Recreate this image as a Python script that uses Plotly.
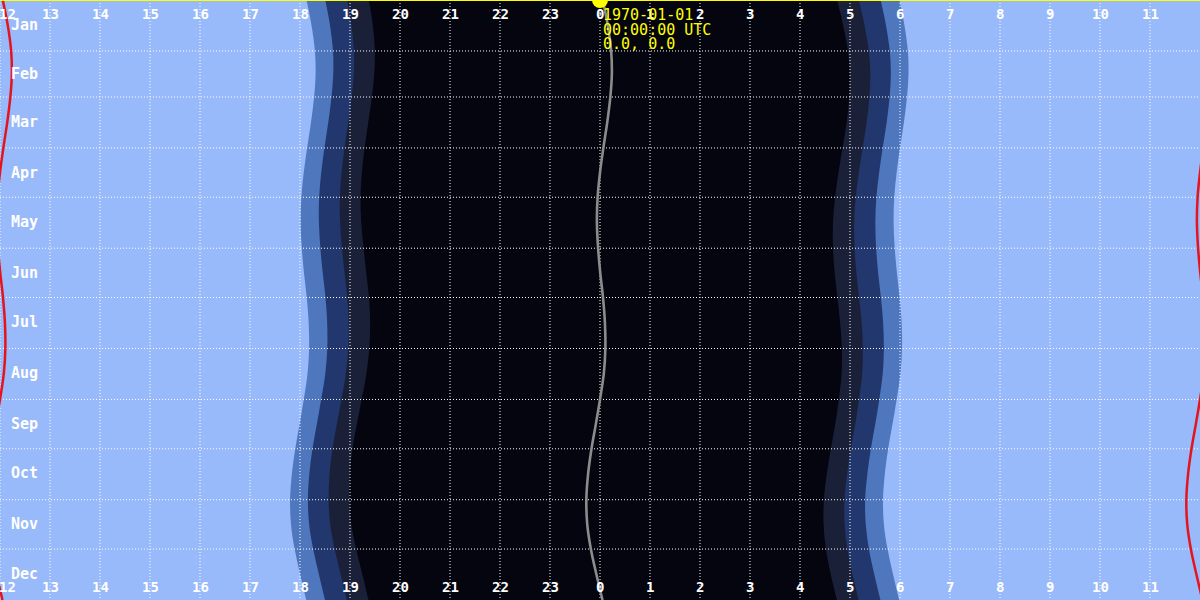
import plotly.graph_objects as go

# day of year for each sampled row (0 = Jan 1, 365 = Dec 31 end)
days = [0, 15, 31, 45, 59, 74, 90, 105, 120, 135, 151, 166, 181,
        196, 212, 227, 243, 258, 273, 288, 304, 319, 334, 349, 365]

# solar noon, UTC hours at lat 0.0 / lon 0.0
noon = [12.055, 12.153, 12.223, 12.237, 12.207, 12.147, 12.067, 12.000, 11.952,
        11.938, 11.962, 12.005, 12.060, 12.098, 12.107, 12.077, 12.000, 11.917,
        11.830, 11.763, 11.727, 11.745, 11.817, 11.925, 12.050]

# evening boundaries (hours)
sunset = [18.130, 18.228, 18.298, 18.312, 18.282, 18.222, 18.142, 18.075, 18.027,
          18.013, 18.037, 18.080, 18.135, 18.173, 18.182, 18.152, 18.075, 17.992,
          17.905, 17.838, 17.802, 17.820, 17.892, 18.000, 18.125]
civil_dusk = [18.505, 18.598, 18.660, 18.665, 18.630, 18.567, 18.488, 18.425, 18.383,
              18.378, 18.408, 18.455, 18.510, 18.543, 18.545, 18.507, 18.423, 18.337,
              18.250, 18.187, 18.158, 18.183, 18.263, 18.375, 18.500]
nautical_dusk = [18.940, 19.027, 19.078, 19.075, 19.033, 18.967, 18.890, 18.832, 18.797,
                 18.802, 18.840, 18.890, 18.945, 18.973, 18.965, 18.918, 18.828, 18.737,
                 18.650, 18.592, 18.572, 18.605, 18.693, 18.810, 18.935]
astro_dusk = [19.375, 19.455, 19.497, 19.485, 19.437, 19.367, 19.292, 19.238, 19.210,
              19.225, 19.272, 19.325, 19.380, 19.403, 19.385, 19.330, 19.233, 19.137,
              19.050, 18.997, 18.985, 19.027, 19.123, 19.245, 19.370]

# morning boundaries (hours)
astro_dawn = [4.743, 4.860, 4.958, 4.997, 4.985, 4.935, 4.850, 4.770, 4.702,
              4.660, 4.660, 4.693, 4.748, 4.802, 4.837, 4.832, 4.775, 4.705,
              4.618, 4.538, 4.477, 4.472, 4.518, 4.613, 4.738]
nautical_dawn = [5.178, 5.288, 5.377, 5.407, 5.388, 5.335, 5.252, 5.177, 5.115,
                 5.083, 5.092, 5.128, 5.183, 5.232, 5.257, 5.243, 5.180, 5.105,
                 5.018, 4.943, 4.890, 4.893, 4.948, 5.048, 5.173]
civil_dawn = [5.613, 5.717, 5.795, 5.817, 5.792, 5.735, 5.653, 5.583, 5.528,
              5.507, 5.523, 5.563, 5.618, 5.662, 5.677, 5.655, 5.585, 5.505,
              5.418, 5.348, 5.303, 5.315, 5.378, 5.483, 5.608]
sunrise = [5.988, 6.087, 6.157, 6.170, 6.140, 6.080, 6.000, 5.933, 5.885,
           5.872, 5.895, 5.938, 5.993, 6.032, 6.040, 6.010, 5.933, 5.850,
           5.763, 5.697, 5.660, 5.678, 5.750, 5.858, 5.983]

hours = list(range(12, 36))
hour_labels = [str(h % 24) for h in hours]
month_labels = ['Jan', 'Feb', 'Mar', 'Apr', 'May', 'Jun',
                'Jul', 'Aug', 'Sep', 'Oct', 'Nov', 'Dec']
month_mid = [15, 45, 74, 105, 135, 166, 196, 227, 258, 288, 319, 349]
month_start = [31, 59, 90, 120, 151, 181, 212, 243, 273, 304, 334]

now_hour = 0.0
now_day = 0
now_text = ['1970-01-01', '00:00:00 UTC', '0.0, 0.0']

DAY = '#98b9fa'
CIVIL = '#4e77be'
NAUT = '#22376d'
ASTRO = '#1b2039'
NIGHT = '#04050f'
MONO = 'DejaVu Sans Mono'


def shift(vals, by):
    return [v + by for v in vals]


fig = go.Figure()

bands = [
    (sunset, sunrise, CIVIL),
    (civil_dusk, civil_dawn, NAUT),
    (nautical_dusk, nautical_dawn, ASTRO),
    (astro_dusk, astro_dawn, NIGHT),
]
for evening, morning, col in bands:
    fig.add_trace(go.Scatter(x=evening, y=days, mode='lines',
                             line=dict(width=0, shape='spline', color=col),
                             hoverinfo='skip'))
    fig.add_trace(go.Scatter(x=shift(morning, 24), y=days, mode='lines',
                             line=dict(width=0, shape='spline', color=col),
                             fill='tonextx', fillcolor=col, hoverinfo='skip'))

# dotted white grid drawn over the bands
gx, gy = [], []
for h in hours:
    gx += [h, h, None]
    gy += [0, 365, None]
for d in month_start:
    gx += [12, 36, None]
    gy += [d, d, None]
fig.add_trace(go.Scatter(x=gx, y=gy, mode='lines',
                         line=dict(color='white', width=1, dash='1px,2px'),
                         hoverinfo='skip'))

# solar noon (wraps round the 12 o'clock edge) and solar midnight
fig.add_trace(go.Scatter(x=noon, y=days, mode='lines',
                         line=dict(color='#e4141e', width=2.5, shape='spline')))
fig.add_trace(go.Scatter(x=shift(noon, 24), y=days, mode='lines',
                         line=dict(color='#e4141e', width=2.5, shape='spline')))
fig.add_trace(go.Scatter(x=shift(noon, 12), y=days, mode='lines',
                         line=dict(color='#8c8c8c', width=2.6, shape='spline')))

# current time marker
fig.add_shape(type='line', x0=12, x1=36, y0=now_day, y1=now_day,
              line=dict(color='#ffff00', width=2), layer='above')
fig.add_trace(go.Scatter(x=[now_hour + 24], y=[now_day], mode='markers',
                         marker=dict(color='#ffff00', size=16)))

for h, lab in zip(hours, hour_labels):
    xs = 7 if h == 12 else 0
    for yy, anc, ys in [(1, 'top', -4), (0, 'bottom', 3)]:
        fig.add_annotation(x=h, y=yy, yref='paper', text=lab, showarrow=False,
                           xanchor='center', yanchor=anc, xshift=xs, yshift=ys,
                           font=dict(family=MONO, size=14, color='white',
                                     weight='bold'))

for d, lab in zip(month_mid, month_labels):
    fig.add_annotation(x=12.17, y=d, text=lab, showarrow=False, xanchor='left',
                       yanchor='middle',
                       font=dict(family=MONO, size=15, color='white', weight='bold'))

for i, t in enumerate(now_text):
    fig.add_annotation(x=now_hour + 24, y=1, yref='paper', text=t, showarrow=False,
                       xanchor='left', yanchor='top', xshift=1, yshift=-4 - 14.5 * i,
                       font=dict(family=MONO, size=15, color='#ffff00'))

fig.update_layout(
    width=1200, height=600,
    margin=dict(l=0, r=0, t=0, b=0),
    plot_bgcolor=DAY, paper_bgcolor=DAY,
    showlegend=False,
    xaxis=dict(range=[12, 36], showgrid=False, zeroline=False,
               showticklabels=False, fixedrange=True),
    yaxis=dict(range=[365, 0], showgrid=False, zeroline=False,
               showticklabels=False, fixedrange=True),
)

fig.write_html("out.html", config={'displayModeBar': False},
               post_script="document.body.style.margin='0';")
